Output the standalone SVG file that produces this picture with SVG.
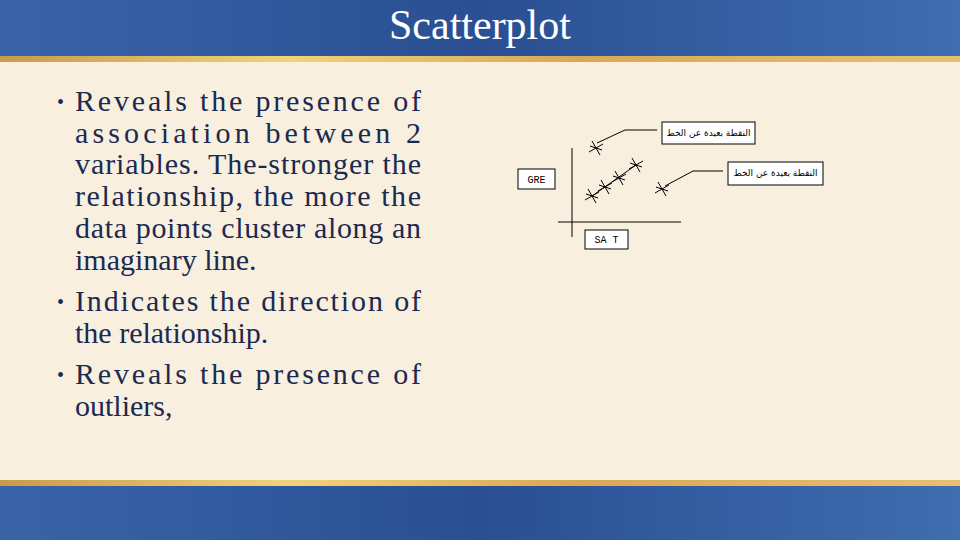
<svg xmlns="http://www.w3.org/2000/svg" width="960" height="540" viewBox="0 0 960 540">
<defs>
<linearGradient id="blue" x1="0" y1="0" x2="1" y2="0"><stop offset="0" stop-color="#3a64a8"/><stop offset="0.5" stop-color="#2a4f93"/><stop offset="1" stop-color="#3f6db0"/></linearGradient>
<linearGradient id="gold" x1="0" y1="0" x2="1" y2="0"><stop offset="0" stop-color="#c99a4a"/><stop offset="0.3" stop-color="#f0d27a"/><stop offset="0.6" stop-color="#d8a855"/><stop offset="1" stop-color="#e6c070"/></linearGradient>
<g id="star" stroke="#000" stroke-width="1" fill="none"><path d="M-4,-7 L4,7 M-7,4 L7,-4 M-6,-2 L6,2"/></g>
</defs>
<style>
.t{font-family:"Liberation Serif",serif;font-size:30px;fill:#1a2a50}
.d{font-family:"Liberation Serif",serif;font-size:20px;fill:#1a2a50}
.b{fill:#fff;stroke:#000;stroke-width:1}
.s{font-family:"Liberation Mono","DejaVu Sans Mono",monospace;font-size:10px;fill:#000}
.a{font-family:"DejaVu Sans","Noto Sans",sans-serif;font-size:9px;fill:#000}
.l{stroke:#000;stroke-width:1;fill:none}
</style>
<rect width="960" height="540" fill="#f8efdf"/>
<rect width="960" height="56" fill="url(#blue)"/>
<rect y="56" width="960" height="6" fill="url(#gold)"/>
<rect y="480" width="960" height="6" fill="url(#gold)"/>
<rect y="486" width="960" height="54" fill="url(#blue)"/>
<text x="480" y="39" text-anchor="middle" font-family="Liberation Serif,serif" font-size="42" fill="#fff">Scatterplot</text>
<g id="bullets">
<text class="d" x="57" y="109">•</text>
<text class="t" x="75" y="111" textLength="346" lengthAdjust="spacing">Reveals the presence of</text>
<text class="t" x="75" y="143" textLength="346" lengthAdjust="spacing">association between 2</text>
<text class="t" x="75" y="174" textLength="346" lengthAdjust="spacing">variables. The-stronger the</text>
<text class="t" x="75" y="206" textLength="346" lengthAdjust="spacing">relationship, the more the</text>
<text class="t" x="75" y="238" textLength="346" lengthAdjust="spacing">data points cluster along an</text>
<text class="t" x="75" y="270">imaginary line.</text>
<text class="d" x="57" y="309">•</text>
<text class="t" x="75" y="311" textLength="346" lengthAdjust="spacing">Indicates the direction of</text>
<text class="t" x="75" y="343">the relationship.</text>
<text class="d" x="57" y="382">•</text>
<text class="t" x="75" y="384" textLength="346" lengthAdjust="spacing">Reveals the presence of</text>
<text class="t" x="75" y="416">outliers,</text>
</g>
<g id="connectors">
<path class="l" d="M572,148 V237 M558,222 H681"/>
<path class="l" d="M592,196 L636,165"/>
<path class="l" d="M657,130 H625 L597,143"/>
<path class="l" d="M723,171 H693 L665,186"/>
</g>
<g id="points">
<use href="#star" x="596" y="148"/>
<use href="#star" x="592" y="196"/>
<use href="#star" x="605" y="187"/>
<use href="#star" x="619" y="178"/>
<use href="#star" x="636" y="165"/>
<use href="#star" x="662" y="189"/>
</g>
<g id="gre"><rect class="b" x="518" y="169" width="37" height="20"/><text class="s" x="536.5" y="182.5" text-anchor="middle">GRE</text></g>
<g id="sat"><rect class="b" x="585" y="230" width="43" height="19"/><text class="s" x="606.5" y="243" text-anchor="middle">SA T</text></g>
<g id="note1"><rect class="b" x="662" y="122" width="93" height="22"/><text class="a" x="708.5" y="136" text-anchor="middle" direction="rtl">النقطة بعيدة عن الخط</text></g>
<g id="note2"><rect class="b" x="728" y="162" width="95" height="23"/><text class="a" x="775.5" y="176" text-anchor="middle" direction="rtl">النقطة بعيدة عن الخط</text></g>
</svg>
